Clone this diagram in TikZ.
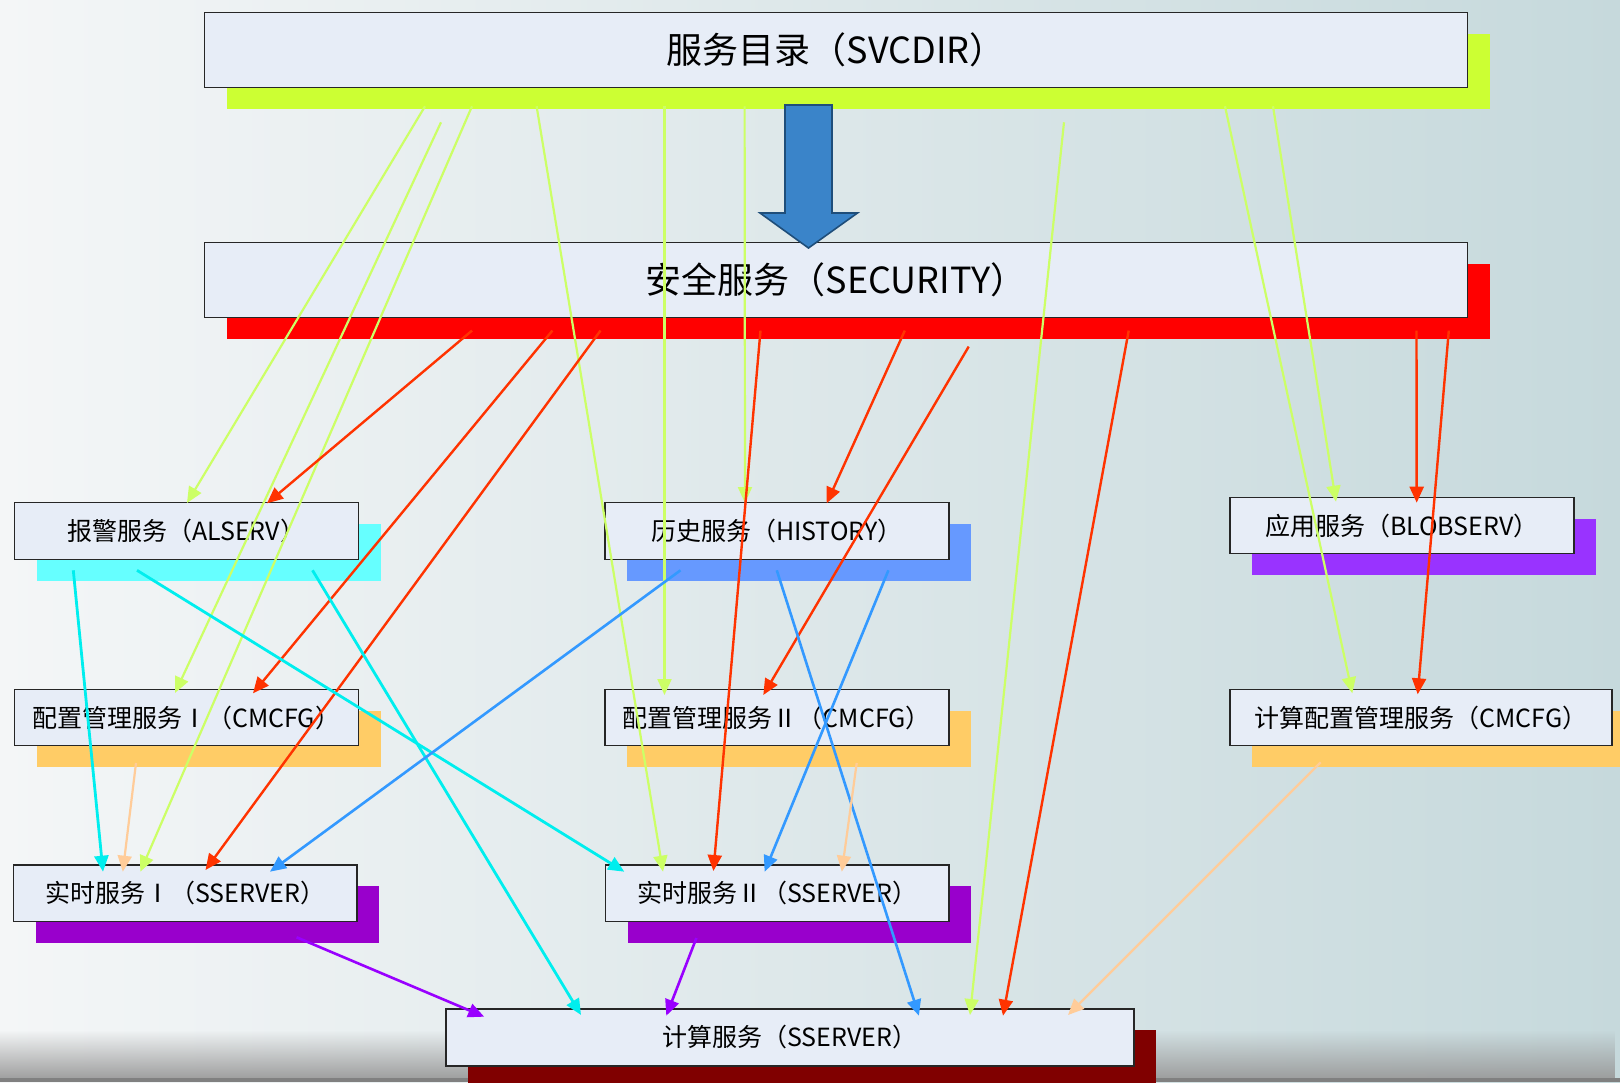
\documentclass[tikz,border=0pt]{standalone}
\usepackage{fontspec}
\setmainfont{Noto Sans CJK SC}
\usetikzlibrary{arrows.meta,fadings}
\definecolor{bgL}{HTML}{F4F6F7}
\definecolor{bgM}{HTML}{E8EEF0}
\definecolor{bgR}{HTML}{C6D9DC}
\definecolor{boxfill}{HTML}{E7EDF7}
\definecolor{limebar}{HTML}{CCFF33}
\definecolor{limeline}{HTML}{CCFF66}
\definecolor{redbar}{HTML}{FF0000}
\definecolor{redline}{HTML}{FF3300}
\definecolor{cyanbar}{HTML}{66FFFF}
\definecolor{cyanline}{HTML}{00EEEE}
\definecolor{bluebar}{HTML}{6699FF}
\definecolor{blueline}{HTML}{3399FF}
\definecolor{orangebar}{HTML}{FFCC66}
\definecolor{peachline}{HTML}{FFCC99}
\definecolor{purplebar}{HTML}{9900CC}
\definecolor{violetbar}{HTML}{9933FF}
\definecolor{purpleline}{HTML}{9900FF}
\definecolor{maroonbar}{HTML}{800000}
\definecolor{bigarrowfill}{HTML}{3A84C9}
\definecolor{bigarrowedge}{HTML}{1F4E7A}
\newcommand{\svcbox}[8]{%
  \fill[#6] (#2+23,#3+22) rectangle (#2+23+#4,#3+22+#5);
  \node[box, minimum width=#4pt, minimum height=#5pt, font=\fontsize{#7}{#7}\selectfont] (#1) at (#2,#3) {#8};
}
\begin{document}
\begin{tikzpicture}[x=1pt,y=-1pt,
  box/.style={draw=black!85, line width=1.3pt, fill=boxfill, inner sep=0pt, anchor=north west, text=black},
  conn/.style={-{Triangle[length=16pt,width=14pt]}},
  gconn/.style={conn, draw=limeline, fill=limeline, line width=2.2pt},
  rconn/.style={conn, draw=redline, fill=redline, line width=2.4pt},
  cconn/.style={conn, draw=cyanline, fill=cyanline, line width=2.8pt},
  bconn/.style={conn, draw=blueline, fill=blueline, line width=2.6pt},
  pconn/.style={conn, draw=peachline, fill=peachline, line width=2.2pt},
  uconn/.style={conn, draw=purpleline, fill=purpleline, line width=2.6pt}
]
\useasboundingbox (0,0) rectangle (1620,1082);
\clip (0,0) rectangle (1620,1082);
% background
\shade[left color=bgL, middle color=bgM, right color=bgR] (0,0) rectangle (1620,1082);
\fill[black!40, path fading=north] (0,1030) rectangle (1620,1082);
\fill[black!50] (0,1078) rectangle (1620,1082);

% boxes
\svcbox{svcdir}{204}{12}{1263}{75}{limebar}{36}{服务目录（SVCDIR）}
\svcbox{security}{204}{242}{1263}{75}{redbar}{36}{安全服务（SECURITY）}
\svcbox{alserv}{13.5}{502}{344}{57}{cyanbar}{25}{报警服务（ALSERV）}
\svcbox{history}{604.3}{502}{344}{57}{bluebar}{25}{历史服务（HISTORY）}
\svcbox{blob}{1229.3}{497}{344}{56}{violetbar}{25}{应用服务（BLOBSERV）}
\svcbox{cmcfgA}{13.5}{689}{344}{56}{orangebar}{25}{配置管理服务Ⅰ（CMCFG）}
\svcbox{cmcfgB}{604.3}{689}{344}{56}{orangebar}{25}{配置管理服务Ⅱ（CMCFG）}
\svcbox{cmcfgC}{1229.3}{689}{382}{56}{orangebar}{25}{计算配置管理服务（CMCFG）}
\svcbox{sserverA}{12.8}{864.3}{343.5}{56.4}{purplebar}{25}{实时服务Ⅰ（SSERVER）}
\svcbox{sserverB}{604.6}{864.3}{343.8}{56.4}{purplebar}{25}{实时服务Ⅱ（SSERVER）}
\svcbox{compute}{445.2}{1008.3}{688}{57}{maroonbar}{25}{计算服务（SSERVER）}

% big blue arrow
\filldraw[fill=bigarrowfill, draw=bigarrowedge, line width=1.6pt, line join=miter]
  (785,105) -- (832,105) -- (832,213) -- (857.5,213) -- (808.5,248) -- (760,213) -- (785,213) -- cycle;

% green connectors from SVCDIR
\draw[gconn] ([shift={(221,18)}]svcdir.south west) -- ([shift={(173.5,1)}]alserv.north west);
\draw[gconn] ([shift={(237,34)}]svcdir.south west) -- ([shift={(161.5,4)}]cmcfgA.north west);
\draw[gconn] ([shift={(268,18)}]svcdir.south west) -- ([shift={(127.5,7.4)}]sserverA.north west);
\draw[gconn] ([shift={(332.6,18)}]svcdir.south west) -- ([shift={(58.4,7.4)}]sserverB.north west);
\draw[gconn] ([shift={(460.5,18)}]svcdir.south west) -- ([shift={(60.2,6)}]cmcfgB.north west);
\draw[gconn] ([shift={(540.6,18)}]svcdir.south west) -- ([shift={(140.7,1)}]history.north west);
\draw[gconn] ([shift={(860,34)}]svcdir.south west) -- ([shift={(524.8,6.7)}]compute.north west);
\draw[gconn] ([shift={(1021,18)}]svcdir.south west) -- ([shift={(123,4.3)}]cmcfgC.north west);
\draw[gconn] ([shift={(1069,18)}]svcdir.south west) -- ([shift={(106.7,4.7)}]blob.north west);

% red connectors from SECURITY
\draw[rconn] ([shift={(268,12.3)}]security.south west) -- ([shift={(253.5,1.3)}]alserv.north west);
\draw[rconn] ([shift={(348.4,12.3)}]security.south west) -- ([shift={(239.5,4.3)}]cmcfgA.north west);
\draw[rconn] ([shift={(396.5,12.3)}]security.south west) -- ([shift={(192.7,5.7)}]sserverA.north west);
\draw[rconn] ([shift={(556.5,12.3)}]security.south west) -- ([shift={(108.8,6.7)}]sserverB.north west);
\draw[rconn] ([shift={(700.8,12.3)}]security.south west) -- ([shift={(222.4,1.3)}]history.north west);
\draw[rconn] ([shift={(764.7,28.3)}]security.south west) -- ([shift={(159,6)}]cmcfgB.north west);
\draw[rconn] ([shift={(924.7,12.3)}]security.south west) -- ([shift={(557.8,7.4)}]compute.north west);
\draw[rconn] ([shift={(1212.5,12.3)}]security.south west) -- ([shift={(187.4,5.7)}]blob.north west);
\draw[rconn] ([shift={(1244.8,12.3)}]security.south west) -- ([shift={(188.4,5.3)}]cmcfgC.north west);

% cyan connectors from ALSERV
\draw[cconn] ([shift={(59.8,10)}]alserv.south west) -- ([shift={(90.2,7.4)}]sserverA.north west);
\draw[cconn] ([shift={(123.5,10)}]alserv.south west) -- ([shift={(19.7,7.4)}]sserverB.north west);
\draw[cconn] ([shift={(299,10)}]alserv.south west) -- ([shift={(135.8,6.7)}]compute.north west);

% blue connectors from HISTORY
\draw[bconn] ([shift={(76.2,10)}]history.south west) -- ([shift={(257.2,7.4)}]sserverA.north west);
\draw[bconn] ([shift={(172.5,10)}]history.south west) -- ([shift={(473.7,7.4)}]compute.north west);
\draw[bconn] ([shift={(284.1,10)}]history.south west) -- ([shift={(160,7.4)}]sserverB.north west);

% peach connectors from CMCFG
\draw[pconn] ([shift={(122.5,16.7)}]cmcfgA.south west) -- ([shift={(110,7.4)}]sserverA.north west);
\draw[pconn] ([shift={(252.4,16.7)}]cmcfgB.south west) -- ([shift={(237.2,7.4)}]sserverB.north west);
\draw[pconn] ([shift={(91.4,16)}]cmcfgC.south west) -- ([shift={(622.8,6.7)}]compute.north west);

% purple connectors from SSERVER
\draw[uconn] ([shift={(283.8,15.3)}]sserverA.south west) -- ([shift={(39,8.4)}]compute.north west);
\draw[uconn] ([shift={(91.8,16)}]sserverB.south west) -- ([shift={(221.1,7.4)}]compute.north west);
\end{tikzpicture}
\end{document}
